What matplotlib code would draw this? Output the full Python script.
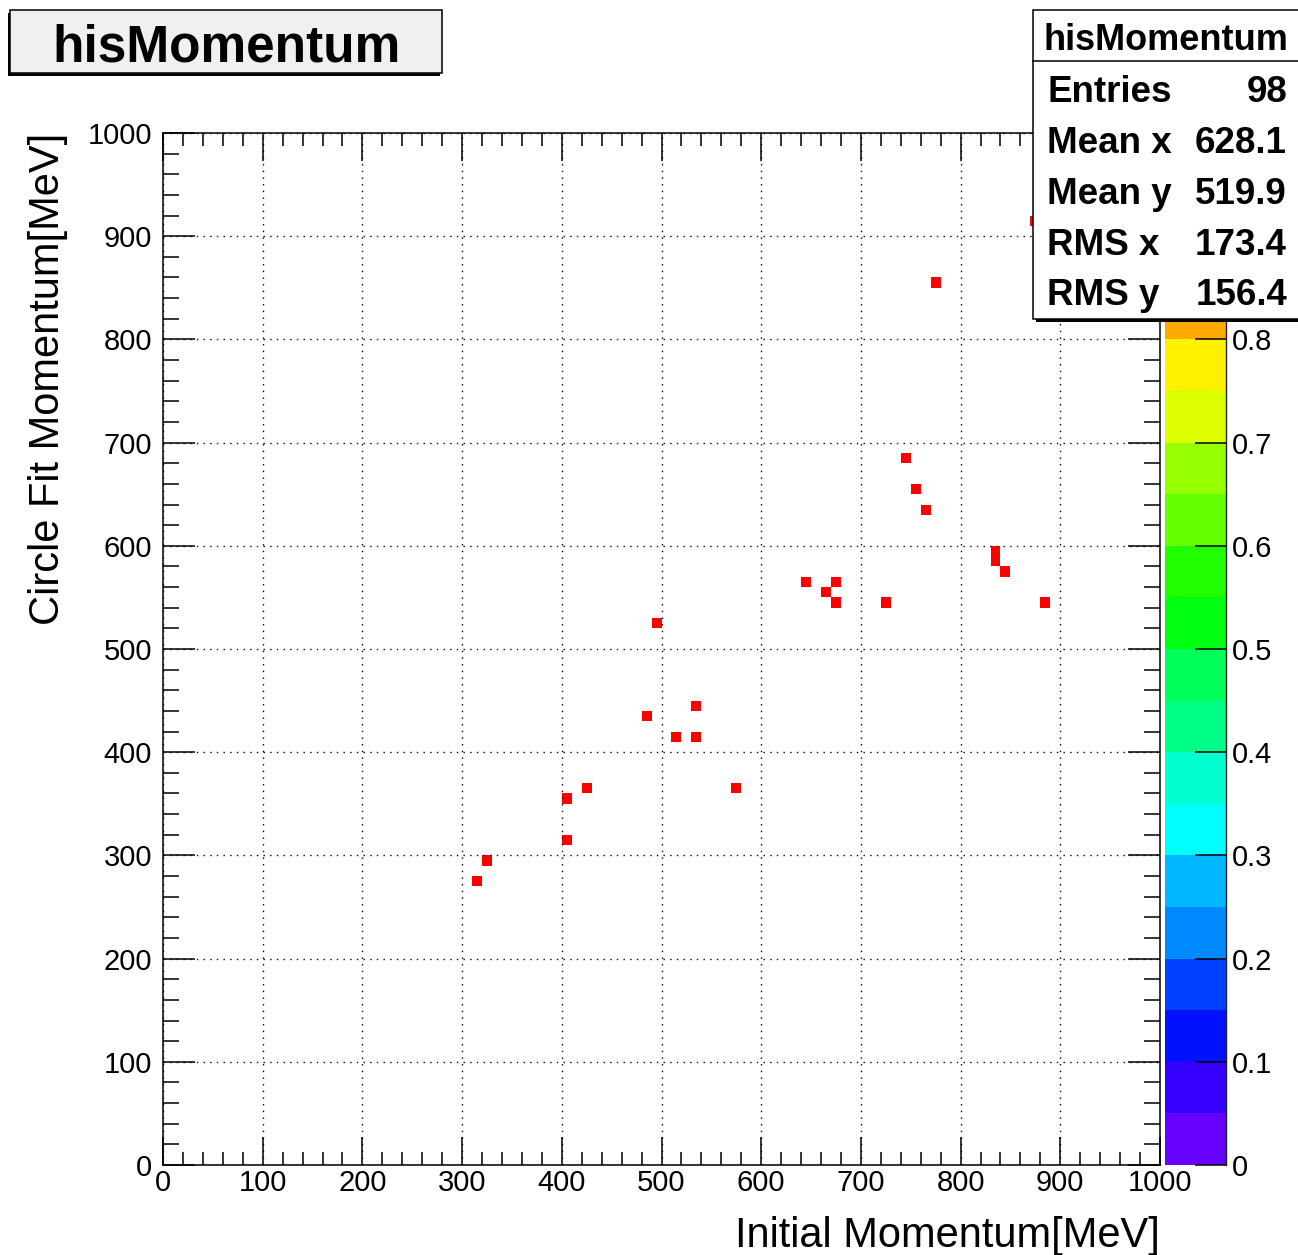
import numpy as np
import matplotlib
matplotlib.use('Agg')
import matplotlib.pyplot as plt
from matplotlib.colors import ListedColormap, BoundaryNorm
from matplotlib.patches import Rectangle
from matplotlib.lines import Line2D
from matplotlib.ticker import MultipleLocator

plt.rcParams['font.family'] = ['Liberation Sans', 'DejaVu Sans']

# ---------------- data ----------------
hist_name = 'hisMomentum'
x_title = 'Initial Momentum[MeV]'
y_title = 'Circle Fit Momentum[MeV]'

# centres (MeV) of the filled 10x10 MeV cells and their contents
x_cells = [315, 325, 405, 405, 425, 485, 495, 515, 535, 535, 575, 645, 665,
           675, 675, 725, 745, 755, 765, 775, 835, 835, 845, 885, 875]
y_cells = [275, 295, 355, 315, 365, 435, 525, 415, 445, 415, 365, 565, 555,
           565, 545, 545, 685, 655, 635, 855, 585, 595, 575, 545, 915]
cell_content = [1, 1, 1, 1, 1, 1, 1, 1, 1, 1, 1, 1, 1,
                1, 1, 1, 1, 1, 1, 1, 1, 1, 1, 1, 1]

axis_ticks = [0, 100, 200, 300, 400, 500, 600, 700, 800, 900, 1000]
axis_tick_labels = ['0', '100', '200', '300', '400', '500', '600', '700', '800', '900', '1000']
# visible colour-bar ticks (0.9 and 1 are hidden behind the statistics box)
z_ticks = [0, 0.1, 0.2, 0.3, 0.4, 0.5, 0.6, 0.7, 0.8]
z_tick_labels = ['0', '0.1', '0.2', '0.3', '0.4', '0.5', '0.6', '0.7', '0.8']

stats_labels = ['Entries', 'Mean x', 'Mean y', 'RMS x', 'RMS y']
stats_values = ['98', '628.1', '519.9', '173.4', '156.4']

# ROOT-like 20-level rainbow palette
palette = ['#6600FF', '#3600FF', '#0011FF', '#0041FF', '#0088FF',
           '#00B8FF', '#00FFFF', '#00FFCF', '#00FF88', '#00FF58',
           '#00FF11', '#1FFF00', '#66FF00', '#96FF00', '#DDFF00',
           '#FFF100', '#FFAA00', '#FF7A00', '#FF3300', '#FF0300']

# ---------------- figure ----------------
W, H = 1298, 1255
fig = plt.figure(figsize=(W / 100, H / 100), dpi=100)

def fx(px):
    return px / W

def fy(py):
    return 1 - py / H

ax_left, ax_right, ax_top, ax_bottom = 163, 1160, 133, 1165
ax = fig.add_axes([fx(ax_left), fy(ax_bottom), fx(ax_right - ax_left), (ax_bottom - ax_top) / H])
cax = fig.add_axes([fx(1165), fy(ax_bottom), fx(1226 - 1165), (ax_bottom - ax_top) / H])

edges = np.arange(0, 1001, 10)
Hc, _, _ = np.histogram2d(x_cells, y_cells, bins=[edges, edges], weights=cell_content)
Hm = np.ma.masked_equal(Hc.T, 0)

cmap = ListedColormap(palette)
cmap.set_over('#FF0000')
norm = BoundaryNorm(np.linspace(0, 1, 21), ncolors=20)

mesh = ax.pcolormesh(edges, edges, Hm, cmap=cmap, norm=norm, zorder=1)

ax.set_xlim(0, 1000)
ax.set_ylim(0, 1000)
ax.set_xticks(axis_ticks)
ax.set_xticklabels(axis_tick_labels)
ax.set_yticks(axis_ticks)
ax.set_yticklabels(axis_tick_labels)
ax.xaxis.set_minor_locator(MultipleLocator(20))
ax.yaxis.set_minor_locator(MultipleLocator(20))

ax.tick_params(axis='x', which='major', direction='in', length=20, width=1.1,
               top=True, bottom=True, labelsize=21, pad=3)
ax.tick_params(axis='x', which='minor', direction='in', length=9.5, width=1.1,
               top=True, bottom=True)
ax.tick_params(axis='y', which='major', direction='in', length=23, width=1.1,
               left=True, right=True, labelsize=21, pad=8)
ax.tick_params(axis='y', which='minor', direction='in', length=11.5, width=1.1,
               left=True, right=True)
for s in ax.spines.values():
    s.set_linewidth(1.1)

ax.grid(True, which='major', color='black', linewidth=1.0,
        linestyle=(0, (1.0, 3.8)))
ax.set_axisbelow(False)

# colour bar
cb = fig.colorbar(mesh, cax=cax, ticks=z_ticks)
cb.ax.set_yticklabels(z_tick_labels)
cb.outline.set_visible(False)
cb.ax.minorticks_off()
cax.tick_params(axis='y', direction='in', length=22, width=1.1, labelsize=21,
                pad=4, right=True, left=False)
cax.add_line(Line2D([1, 1], [0, 1], transform=cax.transAxes, color='#222222',
                    lw=1.0, clip_on=False))

# axis titles
fig.text(fx(1160), fy(1247), x_title, ha='right', va='baseline', fontsize=30)
fig.text(fx(48), fy(133), y_title, ha='center', va='top', rotation=90, fontsize=30)

# boxes
def box(x0, y0, x1, y1, face, shadow=(3, 3)):
    sx, sy = shadow
    fig.add_artist(Rectangle((fx(x0 + sx), fy(y1 + sy)), fx(x1 - x0), (y1 - y0) / H,
                             transform=fig.transFigure, facecolor='black',
                             edgecolor='black', lw=0, zorder=20))
    fig.add_artist(Rectangle((fx(x0), fy(y1)), fx(x1 - x0), (y1 - y0) / H,
                             transform=fig.transFigure, facecolor=face,
                             edgecolor='black', lw=1.1, zorder=21))

# title box
box(10, 10, 442, 73, '#F0F0F0', shadow=(-2, 3))
fig.text(fx(226), fy(62), hist_name, ha='center', va='baseline', fontsize=37,
         fontweight='bold', zorder=22)

# stats box
box(1033, 10, 1300, 319, 'white', shadow=(3, 3))
fig.add_artist(Line2D([fx(1033), fx(1300)], [fy(61), fy(61)], transform=fig.transFigure,
                      color='black', lw=1.1, zorder=22))
fig.text(fx(1166), fy(50), hist_name, ha='center', va='baseline', fontsize=26,
         fontweight='bold', zorder=22)
row_baselines = [102, 153, 204, 255, 305]
for lab, val, yb in zip(stats_labels, stats_values, row_baselines):
    fig.text(fx(1047), fy(yb), lab, ha='left', va='baseline', fontsize=26.5,
             fontweight='bold', zorder=22)
    fig.text(fx(1287), fy(yb), val, ha='right', va='baseline', fontsize=26.5,
             fontweight='bold', zorder=22)

fig.savefig('out.png', dpi=100)
